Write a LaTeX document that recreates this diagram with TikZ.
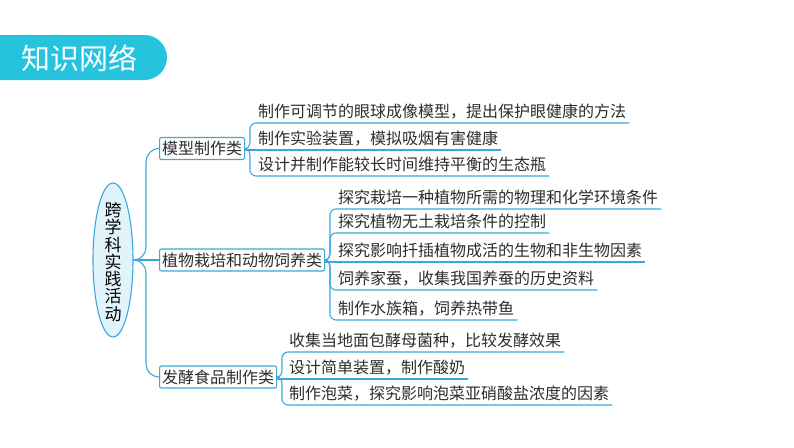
\documentclass[tikz,border=0pt]{standalone}
\usepackage{fontspec}
\newfontfamily\cjk{Noto Sans CJK SC}
\usetikzlibrary{shapes.geometric}
\definecolor{banner}{RGB}{38,195,222}
\definecolor{lineblue}{RGB}{58,168,218}
\definecolor{ellfill}{RGB}{226,244,251}
\definecolor{txt}{RGB}{45,45,45}
\tikzset{
  conn/.style={draw=lineblue, line width=1.1pt},
  catbox/.style={draw=lineblue, line width=1.1pt, rounded corners=2pt, fill=white,
    anchor=west, inner xsep=2.5pt, inner ysep=3pt, minimum height=22pt,
    font=\cjk\fontsize{16pt}{18pt}\selectfont, text=txt},
  leaf/.style={anchor=south west, inner xsep=0pt, inner ysep=5pt, text depth=0pt,
    font=\cjk\fontsize{16pt}{18pt}\selectfont, text=txt},
}
\begin{document}
\begin{tikzpicture}[x=1pt,y=1pt]
\useasboundingbox (0,0) rectangle (794,-447);
% banner
\fill[banner] (0,-35) -- (144.5,-35) arc[start angle=90, end angle=-90, radius=22.5] -- (0,-80) -- cycle;
\node[anchor=west, inner sep=0pt, text=white, font=\cjk\fontsize{29pt}{31pt}\selectfont] (title) at (21,-58) {知识网络};
% root
\node[ellipse, draw=lineblue, fill=ellfill, line width=1.1pt, minimum width=40pt, minimum height=154pt, inner sep=0pt] (root) at (113,-260) {};
\node[align=center, inner sep=0pt, text=black, font=\cjk\fontsize{17pt}{17.3pt}\selectfont] (roottext) at (113,-262) {跨\\学\\科\\实\\践\\活\\动};
% categories
\node[catbox] (m1) at (159,-148.5) {模型制作类};
\node[catbox] (m2) at (159,-260) {植物栽培和动物饲养类};
\node[catbox] (m3) at (159,-377) {发酵食品制作类};
% root connectors
\draw[conn] (root.east) to[out=0,in=-90] (146,-247) -- (146,-162) to[out=90,in=180] (m1.west);
\draw[conn] (root.east) -- (m2.west);
\draw[conn] (root.east) to[out=0,in=90] (146,-273) -- (146,-364) to[out=-90,in=180] (m3.west);
% group 1 leaves
\node[leaf] (l11) at (258,-123) {制作可调节的眼球成像模型，提出保护眼健康的方法};
\node[leaf] (l12) at (258,-150) {制作实验装置，模拟吸烟有害健康};
\node[leaf] (l13) at (258,-176) {设计并制作能较长时间维持平衡的生态瓶};
\draw[conn] (m1.east) to[out=0,in=-90] (250,-141) -- (250,-129) to[out=90,in=180] (256,-123) -- ([xshift=3pt]l11.south east);
\draw[conn] (m1.east |- l12.south) -- ([xshift=3pt]l12.south east);
\draw[conn] (m1.east) to[out=0,in=90] (250,-156) -- (250,-170) to[out=-90,in=180] (256,-176) -- ([xshift=3pt]l13.south east);
% group 2 leaves
\node[leaf] (l21) at (338,-209) {探究栽培一种植物所需的物理和化学环境条件};
\node[leaf] (l22) at (338,-233) {探究植物无土栽培条件的控制};
\node[leaf] (l23) at (338,-262) {探究影响扦插植物成活的生物和非生物因素};
\node[leaf] (l24) at (338,-290) {饲养家蚕，收集我国养蚕的历史资料};
\node[leaf] (l25) at (338,-320) {制作水族箱，饲养热带鱼};
\draw[conn] (m2.east) to[out=0,in=-90] (330,-252) -- (330,-215) to[out=90,in=180] (336,-209) -- ([xshift=3pt]l21.south east);
\draw[conn] (m2.east) to[out=0,in=-90] (330,-252) -- (330,-239) to[out=90,in=180] (336,-233) -- ([xshift=3pt]l22.south east);
\draw[conn] (m2.east |- l23.south) -- ([xshift=3pt]l23.south east);
\draw[conn] (m2.east) to[out=0,in=90] (330,-268) -- (330,-284) to[out=-90,in=180] (336,-290) -- ([xshift=3pt]l24.south east);
\draw[conn] (m2.east) to[out=0,in=90] (330,-268) -- (330,-314) to[out=-90,in=180] (336,-320) -- ([xshift=3pt]l25.south east);
% group 3 leaves
\node[leaf] (l31) at (289,-352) {收集当地面包酵母菌种，比较发酵效果};
\node[leaf] (l32) at (289,-379) {设计简单装置，制作酸奶};
\node[leaf] (l33) at (289,-405) {制作泡菜，探究影响泡菜亚硝酸盐浓度的因素};
\draw[conn] (m3.east) to[out=0,in=-90] (282,-370) -- (282,-358) to[out=90,in=180] (288,-352) -- ([xshift=3pt]l31.south east);
\draw[conn] (m3.east |- l32.south) -- ([xshift=3pt]l32.south east);
\draw[conn] (m3.east) to[out=0,in=90] (282,-384) -- (282,-399) to[out=-90,in=180] (288,-405) -- ([xshift=3pt]l33.south east);
\end{tikzpicture}
\end{document}
